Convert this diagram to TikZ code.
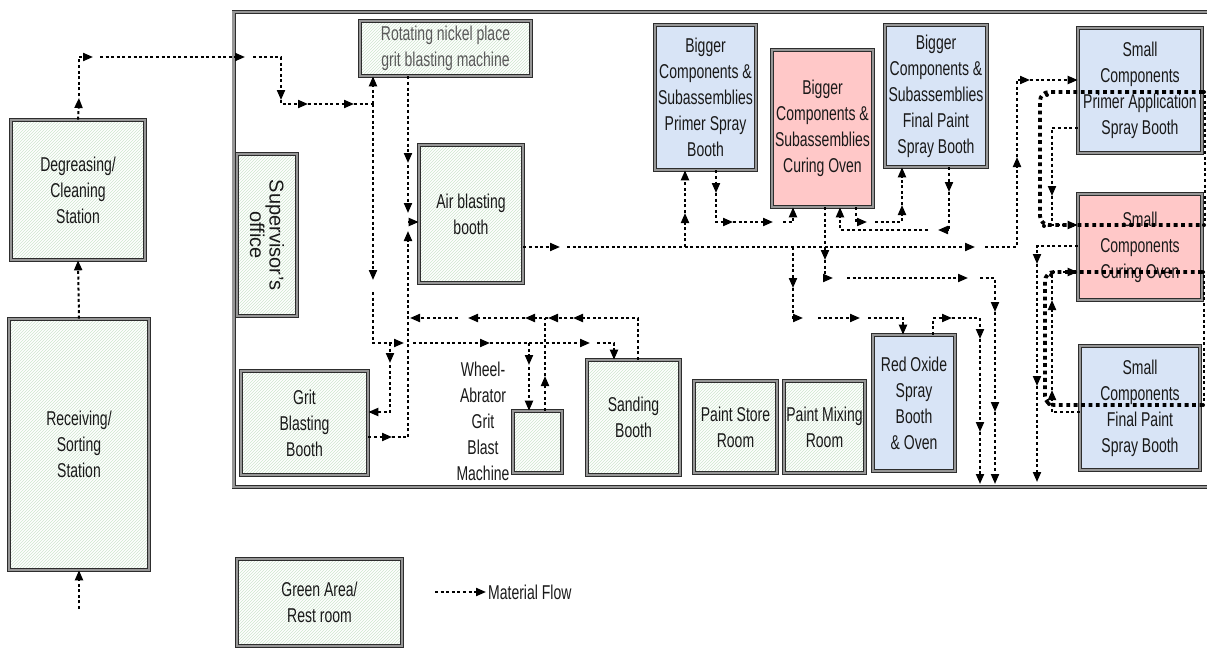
\documentclass[tikz,border=0pt]{standalone}
\usepackage{fontspec}
\setmainfont{Liberation Sans}
\newfontfamily\narrowfont[FakeStretch=0.7]{Liberation Sans}
\usetikzlibrary{arrows.meta,patterns}
\definecolor{hatch}{RGB}{206,230,206}
\definecolor{bluefill}{RGB}{216,228,246}
\definecolor{pinkfill}{RGB}{255,200,200}
\definecolor{band}{RGB}{150,150,150}
\definecolor{edge}{RGB}{45,45,45}
\tikzset{
  room/.style={draw=edge, line width=0.8pt, double=band, double distance=2.6pt,
    align=center, inner sep=1pt, text=black!90,
    font=\narrowfont\fontsize{20}{26}\selectfont},
  greenroom/.style={room, preaction={fill=white},
    preaction={pattern=north east lines, pattern color=hatch}},
  blueroom/.style={room, fill=bluefill},
  pinkroom/.style={room, fill=pinkfill},
  lbl/.style={align=center, inner sep=2pt, text=black!90,
    font=\narrowfont\fontsize{20}{26}\selectfont},
  flowline/.style={line width=2pt, dash pattern=on 3pt off 2.6pt},
  flow/.style={flowline, -{Triangle[length=10pt,width=8pt]}},
  loopline/.style={line width=3.8pt, dash pattern=on 3.8pt off 3.6pt, rounded corners=9pt},
  walls/.style={draw=edge, line width=0.8pt, double=band, double distance=2.6pt},
}
\begin{document}
\begin{tikzpicture}[x=1pt,y=-1pt]
\useasboundingbox (0,0) rectangle (1207,648);
% building
\draw[walls] (233.6,12.1) rectangle (1214,487);
% rooms
\node[greenroom, minimum width=133.8pt, minimum height=139.8pt] (deg) at (78,190) {Degreasing/\\Cleaning\\Station};
\node[greenroom, minimum width=139.8pt, minimum height=250.8pt] (rec) at (79,444.5) {Receiving/\\Sorting\\Station};
\node[greenroom, rotate=-90, minimum width=161.8pt, minimum height=59.8pt,
      font=\fontsize{20}{17}\selectfont] (sup) at (267,235) {Supervisor’s\\office};
\node[greenroom, minimum width=170.8pt, minimum height=54.8pt, text=black!65] (rot) at (445.5,48.5) {Rotating nickel place\\grit blasting machine};
\node[greenroom, minimum width=103.8pt, minimum height=137.8pt] (air) at (471,214) {Air blasting\\booth};
\node[greenroom, minimum width=126.8pt, minimum height=103.8pt] (grit) at (304.5,423) {Grit\\Blasting\\Booth};
\node[greenroom, minimum width=48.8pt, minimum height=61.8pt] (wheel) at (537.5,442) {};
\node[lbl] (wlabel) at (483,421) {Wheel-\\Abrator\\Grit\\Blast\\Machine};
\node[greenroom, minimum width=92.8pt, minimum height=114.8pt] (sand) at (633.5,417.5) {Sanding\\Booth};
\node[greenroom, minimum width=82.8pt, minimum height=91.8pt] (store) at (735.5,427) {Paint Store\\Room};
\node[greenroom, minimum width=80.8pt, minimum height=91.8pt] (mix) at (824.5,427) {Paint Mixing\\Room};
\node[blueroom, minimum width=81.8pt, minimum height=135.8pt] (red) at (914,403) {Red Oxide\\Spray\\Booth\\\& Oven};
\node[blueroom, minimum width=100.8pt, minimum height=144.8pt] (bprim) at (705.5,97.5) {Bigger\\Components \&\\Subassemblies\\Primer Spray\\Booth};
\node[pinkroom, minimum width=100.8pt, minimum height=156.8pt] (bcure) at (822.5,128.5) {Bigger\\Components \&\\Subassemblies\\Curing Oven};
\node[blueroom, minimum width=101.8pt, minimum height=141.8pt] (bfin) at (936,96) {Bigger\\Components \&\\Subassemblies\\Final Paint\\Spray Booth};
\node[blueroom, minimum width=123.8pt, minimum height=124.8pt] (sprim) at (1140,90.5) {Small\\Components\\Primer Application\\Spray Booth};
\node[pinkroom, minimum width=123.8pt, minimum height=105.8pt] (scure) at (1140,247) {Small\\Components\\Curing Oven};
\node[blueroom, minimum width=119.8pt, minimum height=123.8pt] (sfin) at (1140,408) {Small\\Components\\Final Paint\\Spray Booth};
\node[greenroom, minimum width=164.8pt, minimum height=86.8pt] (green) at (319.5,602.5) {Green Area/\\Rest room};
% legend
\node[lbl, anchor=west] (mflow) at (486,592) {Material Flow};
\coordinate (lg) at (435,592);
\draw[flow] (lg) -- (mflow.west);
% entry flow
\coordinate (entry) at (79,609);
\draw[flow] (entry) -- (rec.south);
\draw[flow] (rec.north) -- (deg.south);
\draw[flow] (deg.north) -- (79,98);
\draw[flow] (79,96) |- (93,57);
\draw[flow] (100,57) -- (245,57);
\draw[flow] (253,57) -| (281,100);
\draw[flow] (281,100) |- (308,104);
\draw[flow] (308,104) -- (354,104);
\draw[flowline] (354,104) -- (373,104);
% x = 373
\draw[flow] (373,104) -- (rot.south -| 373,0);
\draw[flow] (373,104) -- (373,280);
\draw[flow] (373,292) |- (404,343);
\draw[flow] (413,343) -- (490,343);
\draw[flow] (490,343) -- (590,343);
\draw[flow] (597,343) -| (sand.north -| 614,0);
% wheel-abrator
\draw[flow] (529,343) -- (529,365);
\draw[flow] (529,367) -- (wheel.north -| 529,0);
\draw[flow] (wheel.north -| 545,0) -- (545,376);
\draw[flowline] (545,376) -- (545,318);
% return line y = 318
\draw[flow] (sand.north -| 638,0) |- (573,318);
\draw[flow] (573,318) -- (548,318);
\draw[flow] (548,318) -- (525,318);
\draw[flow] (525,318) -- (468,318);
\draw[flow] (458,318) -- (410,318);
% x = 408
\draw[flow] (rot.south -| 408,0) -- (408,163);
\draw[flow] (408,165) -- (408,213);
\draw[flow] (408,222) -- (air.west |- 0,222);
\draw[flow] (408,437) -- (408,231);
\draw[flow] (grit.east |- 0,437) -- (392,437);
\draw[flowline] (392,437) -- (408,437);
% x = 390
\draw[flow] (390,343) -- (390,363);
\draw[flow] (390,365) |- (grit.east |- 0,412);
% main line y = 247
\draw[flow] (air.east |- 0,247) -- (560,247);
\draw[flow] (567,247) -- (975,247);
\draw[flow] (985,247) -| (1017,157);
\draw[flow] (1017,157) |- (1030,80);
\draw[flow] (1030,80) -- (sprim.west |- 0,80);
\draw[flow] (685,247) -- (685,213);
\draw[flow] (685,213) -- (bprim.south -| 685,0);
% x = 793 down to red oxide
\draw[flow] (793,247) -- (793,288);
\draw[flow] (793,288) |- (803,318);
\draw[flow] (818,318) -- (860,318);
\draw[flow] (868,318) -| (red.north -| 903,0);
\draw[flow] (red.north -| 933,0) |- (952,318);
\draw[flow] (952,318) -| (980,339);
\draw[flow] (980,339) -- (980,432);
\draw[flow] (980,432) -- (980,484);
% x = 825 from bigger curing oven
\draw[flow] (bcure.south -| 825,0) -- (825,260);
\draw[flow] (825,260) |- (833,278);
\draw[flow] (847,278) -- (968,278);
\draw[flow] (980,278) -| (995,312);
\draw[flow] (995,312) -- (995,412);
\draw[flow] (995,412) -- (995,484);
% bigger primer -> bigger curing
\draw[flow] (bprim.south -| 716,0) -- (716,193);
\draw[flow] (716,193) |- (733,222);
\draw[flow] (733,222) -- (773,222);
\draw[flow] (783,222) -| (bcure.south -| 793,0);
% bigger curing -> bigger final
\draw[flow] (bcure.south -| 856,0) |- (867,222);
\draw[flow] (875,222) -| (902,205);
\draw[flow] (902,205) -- (bfin.south -| 902,0);
% bigger final -> bigger curing
\draw[flow] (bfin.south -| 949,0) -- (949,192);
\draw[flow] (949,192) |- (938,230);
\draw[flow] (928,230) -| (bcure.south -| 840,0);
% small components
\draw[flow] (sprim.west |- 0,128) -| (1052,196);
\draw[flow] (1052,196) |- (scure.west |- 0,225);
\draw[flow] (scure.west |- 0,246) -| (1037,264);
\draw[flow] (1037,264) -- (1037,386);
\draw[flow] (1037,386) -- (1037,482);
\draw[flow] (sfin.west |- 0,412) -| (1052,390);
\draw[flow] (1052,390) -- (1052,300);
\draw[flow] (1052,300) |- (scure.west |- 0,272);
% thick dotted loops
\draw[loopline] (1203,92) -- (1040,92) -- (1040,225) -- (1203,225);
\draw[flowline] (1205,95) -- (1205,222);
\draw[loopline] (1202,272) -- (1045,272) -- (1045,405) -- (1202,405);
\draw[flowline] (1204,275) -- (1204,402);
\foreach \p in {(1204,92),(1204,225),(1203,272),(1203,405),(1047,95),(1044,226),(1051,275),(1049,404)}
  \fill \p circle (2pt);
\end{tikzpicture}
\end{document}
